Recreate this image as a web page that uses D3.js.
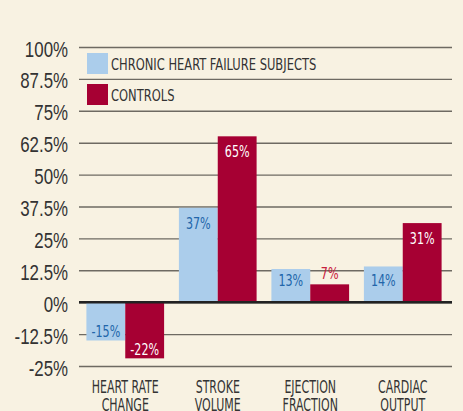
<!DOCTYPE html>
<html>
<head>
<meta charset="utf-8">
<script src="https://cdn.jsdelivr.net/npm/d3@7"></script>
<style>
  body { margin: 0; background: #f8f2e2; }
  svg { display: block; font-family: "DejaVu Sans Condensed", "Liberation Sans Narrow", sans-serif; }
</style>
</head>
<body>
<svg id="container" width="463" height="411"></svg>
<script>
const categories = [['HEART RATE', 'CHANGE'], ['STROKE', 'VOLUME'], ['EJECTION', 'FRACTION'], ['CARDIAC', 'OUTPUT']]
const series = ['CHRONIC HEART FAILURE SUBJECTS', 'CONTROLS']
const chfValues = [-15, 37, 13, 14]
const controlValues = [-22, 65, 7, 31]
const tickValues = [-25, -12.5, 0, 12.5, 25, 37.5, 50, 62.5, 75, 87.5, 100]

const colors = ['#abcdeb', '#a60033']
const labelColors = ['#2266aa', '#ffffff']

const svg = d3.select('#container')

const xScale = d3.scaleBand().domain(d3.range(categories.length)).range([79, 449])
  .paddingInner(0.16).paddingOuter(0.08)
const xInner = d3.scaleBand().domain([0, 1]).range([0, xScale.bandwidth()])
const yScale = d3.scaleLinear().domain([-25, 100]).range([366, 47])

// gridlines + tick labels
const yAxis = d3.axisLeft(yScale).tickValues(tickValues).tickSize(-373).tickPadding(11)
  .tickFormat((d) => d + '%')
const axisG = svg.append('g').attr('transform', 'translate(79,0)').call(yAxis)
axisG.select('.domain').remove()
axisG.selectAll('line').attr('stroke', '#6e6a62').attr('stroke-width', 1.4)
const tickScale = 0.75
axisG.selectAll('text')
  .attr('fill', '#333')
  .style('font-size', '22.5px')
  .attr('x', -11 / tickScale)
  .attr('dy', '0.4em')
  .attr('transform', `scale(${tickScale},1)`)

const rows = categories.map((c, i) => ({ i, values: [chfValues[i], controlValues[i]] }))

const groups = svg.selectAll('.group').data(rows).enter().append('g')
  .attr('transform', (d) => `translate(${xScale(d.i)},0)`)

groups.selectAll('rect').data((d) => d.values).enter().append('rect')
  .attr('x', (v, j) => xInner(j))
  .attr('width', xInner.bandwidth())
  .attr('y', (v) => yScale(Math.max(0, v)))
  .attr('height', (v) => Math.abs(yScale(v) - yScale(0)))
  .style('fill', (v, j) => colors[j])

// value labels
const valScale = 0.75
groups.selectAll('.val').data((d) => d.values).enter().append('text')
  .attr('text-anchor', 'middle')
  .style('font-size', '16.5px')
  .attr('transform', (v, j) => {
    const cx = xInner(j) + xInner.bandwidth() / 2
    const top = yScale(v)
    const h = Math.abs(yScale(v) - yScale(0))
    let y
    if (v < 0) y = top - 3
    else if (h < 22) y = top - 5
    else y = Math.min(top + 21, yScale(0) - 16)
    return `translate(${cx},${y}) scale(${valScale},1)`
  })
  .attr('fill', (v, j) => {
    const h = Math.abs(yScale(v) - yScale(0))
    if (j === 1 && v > 0 && h < 22) return '#c8203c'
    return labelColors[j]
  })
  .text((v) => v + '%')

// zero line
svg.append('line')
  .attr('x1', 79).attr('x2', 452)
  .attr('y1', yScale(0)).attr('y2', yScale(0))
  .attr('stroke', '#222').attr('stroke-width', 2.6)

// category labels
const catScale = 0.68
groups.selectAll('.cat').data((d) => categories[d.i]).enter().append('text')
  .attr('text-anchor', 'middle')
  .style('font-size', '18px')
  .attr('fill', '#333')
  .attr('transform', (t, k) => `translate(${xScale.bandwidth() / 2},${393 + k * 18}) scale(${catScale},1)`)
  .text((t) => t)

// legend
const legScale = 0.775
const legend = svg.selectAll('.legend').data(series).enter().append('g')
  .attr('transform', (d, i) => `translate(87,${53 + i * 31})`)
legend.append('rect').attr('width', 21).attr('height', 21).style('fill', (d, i) => colors[i])
legend.append('text')
  .attr('transform', `translate(24,16.5) scale(${legScale},1)`)
  .style('font-size', '16.5px')
  .attr('fill', '#333')
  .text((d) => d)
</script>
</body>
</html>
